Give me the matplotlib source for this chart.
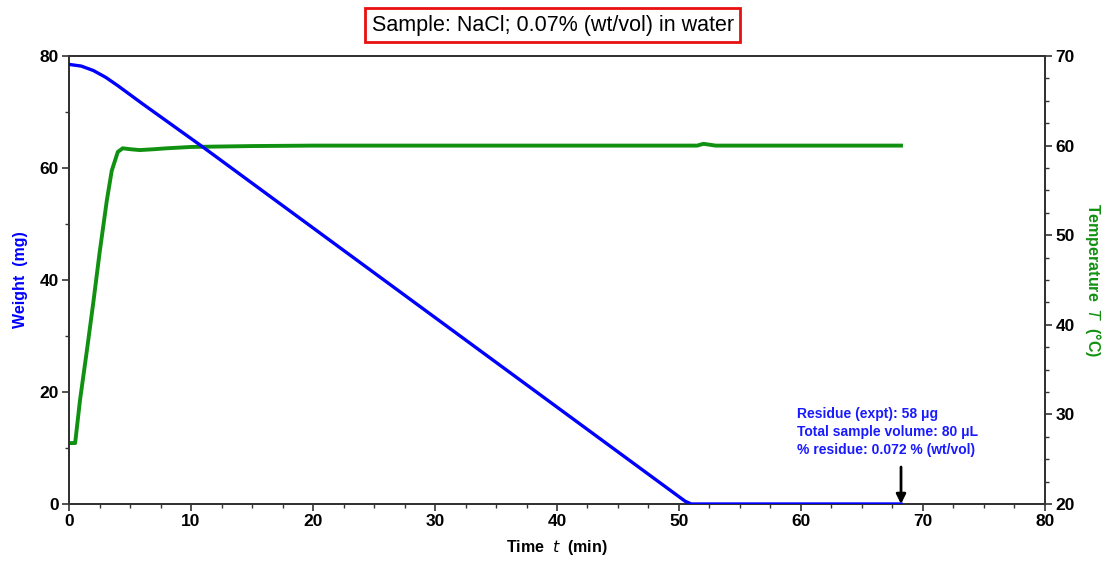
import matplotlib
matplotlib.use("Agg")
import matplotlib.pyplot as plt
from matplotlib.ticker import MultipleLocator

plt.rcParams['font.family'] = ['Liberation Sans', 'DejaVu Sans']

# Gewicht (mg) über Zeit (min)
t_weight = [0, 1, 2, 3, 4, 5, 6, 11, 20, 30, 40, 50.5, 51, 60, 68.2]
weight = [78.5, 78.2, 77.4, 76.2, 74.7, 73.1, 71.5, 63.7, 49.3, 33.3, 17.3, 0.5, 0.0, 0.0, 0.0]

# Temperatur (°C) über Zeit (min)
t_temp = [0, 0.5, 0.9, 1.5, 2.0, 2.5, 3.1, 3.5, 4.0, 4.4, 5.0, 5.8, 7, 8, 10, 15, 20,
          30, 40, 50, 51.5, 52, 52.5, 53, 60, 68.2]
temp = [26.8, 26.8, 31.6, 37.5, 42.6, 48.0, 53.9, 57.2, 59.3, 59.7, 59.6, 59.5, 59.6, 59.7,
        59.85, 59.95, 60.0, 60.0, 60.0, 60.0, 60.0, 60.2, 60.1, 60.0, 60.0, 60.0]

arrow_t = 68.2
arrow_from = 6.6

notes = ["Residue (expt): 58 μg",
         "Total sample volume: 80 μL",
         "% residue: 0.072 % (wt/vol)"]

fig = plt.figure(figsize=(11.1, 5.64), dpi=100)
ax = fig.add_axes([0.0622, 0.1064, 0.8792, 0.7943])
ax2 = ax.twinx()

ax.plot(t_weight, weight, color='#0000ff', lw=2.4, zorder=3)
ax2.plot(t_temp, temp, color='#119111', lw=2.8, zorder=2)
ax.set_zorder(ax2.get_zorder() + 1)
ax.patch.set_visible(False)

ax.set_xlim(0, 80)
ax.set_ylim(0, 80)
ax2.set_ylim(20, 70)

ax.xaxis.set_major_locator(MultipleLocator(10))
ax.xaxis.set_minor_locator(MultipleLocator(2.5))
ax.yaxis.set_major_locator(MultipleLocator(20))
ax.yaxis.set_minor_locator(MultipleLocator(10))
ax2.yaxis.set_major_locator(MultipleLocator(10))
ax2.yaxis.set_minor_locator(MultipleLocator(2.5))

for a in (ax, ax2):
    for s in a.spines.values():
        s.set_color('#333333')
        s.set_linewidth(1.4)
    a.tick_params(which='major', length=5, width=1.2, color='#333333', labelsize=12.5, pad=2.5)
    a.tick_params(which='minor', length=3, width=1.0, color='#333333')
    for lab in a.get_yticklabels() + a.get_xticklabels():
        lab.set_fontweight('bold')

ax.set_xlabel(r'Time  $\mathit{t}$  (min)', fontsize=11.5, fontweight='bold', labelpad=6)
ax.set_ylabel('Weight  (mg)', fontsize=11.5, fontweight='bold', color='#0000ff', labelpad=8)
ax2.set_ylabel(r'Temperature  $\mathit{T}$  (°C)', fontsize=11.5, fontweight='bold',
               color='#119111', rotation=-90, labelpad=20)

ax.annotate('', xy=(arrow_t, 0), xytext=(arrow_t, arrow_from),
            arrowprops=dict(arrowstyle='-|>', color='black', lw=2, mutation_scale=14,
                            shrinkA=0, shrinkB=0), zorder=5)

ax.text(59.7, 17.4, "\n".join(notes), color='#1a1aff', fontsize=10, fontweight='bold',
        va='top', ha='left', linespacing=1.4)

fig.text(0.498, 0.955, 'Sample: NaCl; 0.07% (wt/vol) in water', fontsize=15.5,
         ha='center', va='center',
         bbox=dict(boxstyle='square,pad=0.3', fc='white', ec='#e81010', lw=2))

fig.savefig('out.png', dpi=100)
